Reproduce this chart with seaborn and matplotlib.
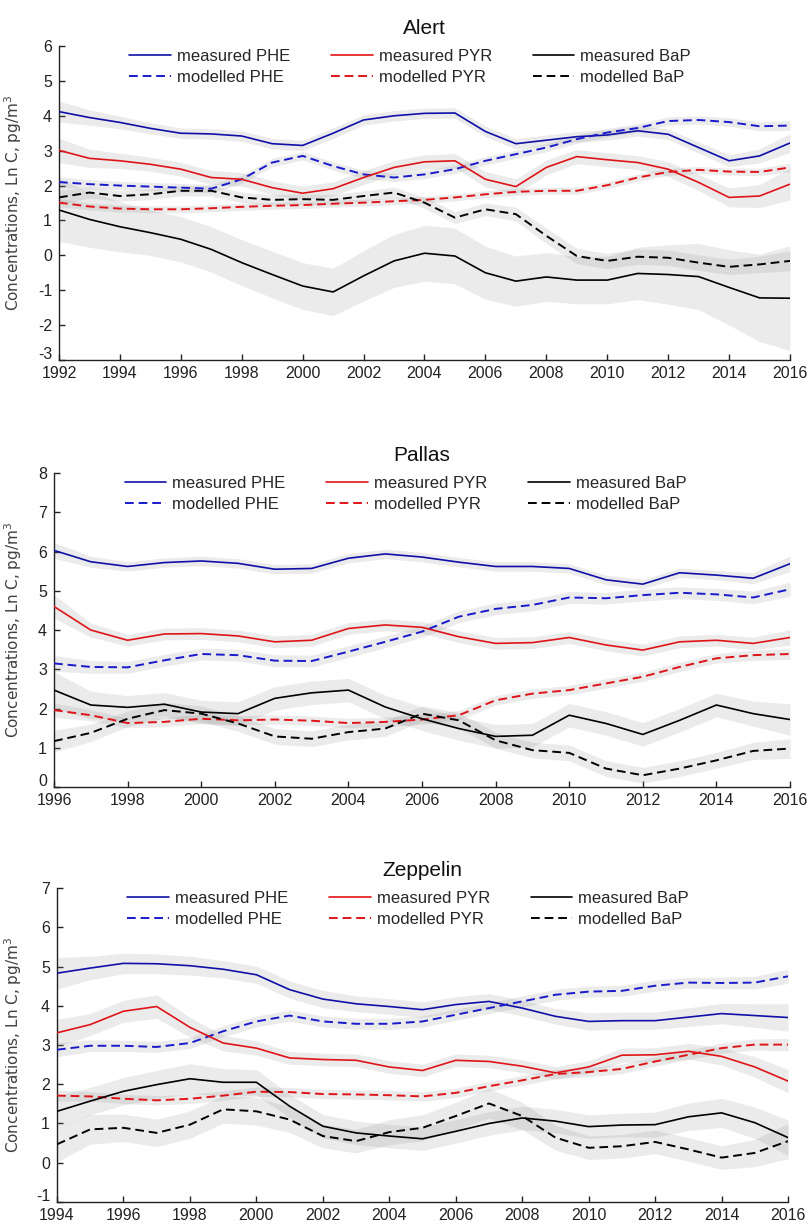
import matplotlib
matplotlib.use("Agg")
import matplotlib.pyplot as plt
import matplotlib.transforms as mtransforms
import seaborn as sns

# ---------------- Alert, 1992-2016 ----------------
alert_years = list(range(1992, 2017))
alert_phe_meas = [4.12, 3.95, 3.81, 3.64, 3.50, 3.48, 3.42, 3.20, 3.15, 3.50, 3.88, 4.00, 4.07,
                  4.08, 3.55, 3.20, 3.30, 3.40, 3.45, 3.57, 3.47, 3.09, 2.71, 2.85, 3.22]
alert_phe_meas_ci = [0.30, 0.22, 0.18, 0.16, 0.15, 0.15, 0.15, 0.15, 0.15, 0.15, 0.15, 0.15, 0.15,
                     0.15, 0.15, 0.15, 0.15, 0.15, 0.15, 0.15, 0.15, 0.16, 0.17, 0.20, 0.27]
alert_phe_mod = [2.10, 2.04, 2.00, 1.97, 1.94, 1.91, 2.18, 2.66, 2.85, 2.56, 2.32, 2.23, 2.32,
                 2.47, 2.71, 2.90, 3.09, 3.33, 3.52, 3.65, 3.85, 3.88, 3.82, 3.70, 3.72]
alert_phe_mod_ci = [0.15, 0.13, 0.12, 0.12, 0.12, 0.12, 0.12, 0.12, 0.12, 0.12, 0.12, 0.12, 0.12,
                    0.12, 0.12, 0.12, 0.12, 0.12, 0.12, 0.12, 0.12, 0.12, 0.12, 0.13, 0.14]
alert_pyr_meas = [3.01, 2.78, 2.71, 2.61, 2.47, 2.23, 2.18, 1.94, 1.78, 1.91, 2.23, 2.52, 2.68,
                  2.71, 2.18, 1.97, 2.52, 2.83, 2.74, 2.66, 2.47, 2.09, 1.66, 1.70, 2.04]
alert_pyr_meas_ci = [0.35, 0.26, 0.22, 0.20, 0.20, 0.20, 0.20, 0.20, 0.20, 0.20, 0.20, 0.20, 0.20,
                     0.21, 0.22, 0.22, 0.21, 0.20, 0.20, 0.20, 0.21, 0.23, 0.27, 0.33, 0.45]
alert_pyr_mod = [1.51, 1.40, 1.34, 1.32, 1.32, 1.35, 1.39, 1.42, 1.44, 1.48, 1.51, 1.55, 1.59,
                 1.66, 1.75, 1.82, 1.85, 1.85, 2.01, 2.23, 2.39, 2.45, 2.40, 2.39, 2.52]
alert_pyr_mod_ci = [0.12, 0.10, 0.10, 0.10, 0.10, 0.10, 0.10, 0.10, 0.10, 0.10, 0.10, 0.10, 0.10,
                    0.10, 0.10, 0.10, 0.10, 0.10, 0.10, 0.10, 0.10, 0.10, 0.10, 0.11, 0.12]
alert_bap_meas = [1.30, 1.03, 0.82, 0.65, 0.46, 0.17, -0.21, -0.55, -0.88, -1.05, -0.59, -0.16, 0.06,
                  -0.02, -0.50, -0.74, -0.62, -0.71, -0.71, -0.52, -0.55, -0.61, -0.92, -1.22, -1.23]
alert_bap_meas_ci = [0.90, 0.80, 0.72, 0.65, 0.65, 0.65, 0.66, 0.67, 0.67, 0.68, 0.72, 0.76, 0.80,
                     0.80, 0.76, 0.72, 0.70, 0.68, 0.68, 0.75, 0.85, 0.95, 1.08, 1.25, 1.50]
alert_bap_mod = [1.66, 1.80, 1.70, 1.75, 1.85, 1.85, 1.66, 1.59, 1.61, 1.59, 1.70, 1.80, 1.51,
                 1.08, 1.32, 1.18, 0.56, -0.02, -0.16, -0.04, -0.07, -0.21, -0.33, -0.26, -0.16]
alert_bap_mod_ci = [0.20, 0.16, 0.15, 0.15, 0.15, 0.15, 0.15, 0.15, 0.15, 0.15, 0.15, 0.15, 0.16,
                    0.17, 0.18, 0.20, 0.22, 0.22, 0.22, 0.22, 0.22, 0.22, 0.22, 0.24, 0.28]

# ---------------- Pallas, 1996-2016 ----------------
pallas_years = list(range(1996, 2017))
pallas_phe_meas = [6.03, 5.74, 5.62, 5.72, 5.76, 5.70, 5.55, 5.57, 5.83, 5.94, 5.86,
                   5.73, 5.62, 5.62, 5.57, 5.28, 5.17, 5.46, 5.40, 5.32, 5.69]
pallas_phe_meas_ci = [0.20, 0.14, 0.12, 0.12, 0.12, 0.12, 0.12, 0.12, 0.12, 0.12, 0.12,
                      0.12, 0.12, 0.12, 0.12, 0.12, 0.12, 0.12, 0.12, 0.14, 0.20]
pallas_phe_mod = [3.15, 3.06, 3.05, 3.23, 3.39, 3.36, 3.22, 3.21, 3.45, 3.70, 3.96,
                  4.34, 4.54, 4.64, 4.83, 4.81, 4.89, 4.95, 4.91, 4.83, 5.04]
pallas_phe_mod_ci = [0.20, 0.16, 0.15, 0.15, 0.15, 0.15, 0.15, 0.15, 0.15, 0.15, 0.15,
                     0.15, 0.15, 0.15, 0.15, 0.15, 0.15, 0.15, 0.15, 0.16, 0.18]
pallas_pyr_meas = [4.60, 4.00, 3.74, 3.90, 3.91, 3.85, 3.70, 3.74, 4.04, 4.13, 4.07,
                   3.83, 3.66, 3.68, 3.81, 3.62, 3.49, 3.70, 3.74, 3.66, 3.81]
pallas_pyr_meas_ci = [0.30, 0.18, 0.15, 0.15, 0.15, 0.15, 0.15, 0.15, 0.15, 0.15, 0.15,
                      0.15, 0.15, 0.15, 0.15, 0.15, 0.15, 0.15, 0.15, 0.16, 0.20]
pallas_pyr_mod = [1.96, 1.83, 1.63, 1.66, 1.74, 1.70, 1.72, 1.69, 1.63, 1.66, 1.72,
                  1.83, 2.21, 2.38, 2.47, 2.64, 2.81, 3.06, 3.28, 3.36, 3.39]
pallas_pyr_mod_ci = [0.18, 0.14, 0.12, 0.12, 0.12, 0.12, 0.12, 0.12, 0.12, 0.12, 0.12,
                     0.12, 0.12, 0.12, 0.12, 0.12, 0.12, 0.12, 0.12, 0.13, 0.14]
pallas_bap_meas = [2.47, 2.09, 2.03, 2.11, 1.91, 1.87, 2.26, 2.40, 2.47, 2.04, 1.74,
                   1.49, 1.29, 1.32, 1.83, 1.62, 1.34, 1.70, 2.09, 1.87, 1.72]
pallas_bap_meas_ci = [0.47, 0.35, 0.30, 0.30, 0.30, 0.30, 0.30, 0.30, 0.30, 0.30, 0.30,
                      0.30, 0.30, 0.30, 0.30, 0.30, 0.30, 0.30, 0.30, 0.32, 0.40]
pallas_bap_mod = [1.17, 1.38, 1.74, 1.96, 1.87, 1.62, 1.29, 1.23, 1.40, 1.49, 1.87,
                  1.70, 1.19, 0.94, 0.87, 0.47, 0.30, 0.47, 0.68, 0.92, 0.98]
pallas_bap_mod_ci = [0.28, 0.22, 0.20, 0.20, 0.20, 0.20, 0.20, 0.20, 0.20, 0.20, 0.20,
                     0.20, 0.20, 0.20, 0.20, 0.20, 0.20, 0.20, 0.20, 0.22, 0.25]

# ---------------- Zeppelin, 1994-2016 ----------------
zeppelin_years = list(range(1994, 2017))
zeppelin_phe_meas = [4.83, 4.96, 5.08, 5.07, 5.02, 4.93, 4.79, 4.41, 4.17, 4.05, 3.98, 3.90,
                     4.03, 4.11, 3.94, 3.73, 3.60, 3.62, 3.62, 3.71, 3.80, 3.75, 3.70]
zeppelin_phe_meas_ci = [0.40, 0.30, 0.26, 0.25, 0.24, 0.22, 0.22, 0.22, 0.22, 0.20, 0.20, 0.20,
                        0.20, 0.20, 0.20, 0.20, 0.22, 0.22, 0.22, 0.24, 0.26, 0.30, 0.35]
zeppelin_phe_mod = [2.88, 2.98, 2.98, 2.95, 3.05, 3.35, 3.60, 3.75, 3.60, 3.54, 3.54, 3.60,
                    3.77, 3.94, 4.11, 4.28, 4.36, 4.38, 4.51, 4.59, 4.58, 4.59, 4.75]
zeppelin_phe_mod_ci = [0.18, 0.15, 0.14, 0.14, 0.14, 0.14, 0.14, 0.14, 0.14, 0.14, 0.14, 0.14,
                       0.14, 0.14, 0.14, 0.14, 0.14, 0.14, 0.14, 0.14, 0.15, 0.16, 0.18]
zeppelin_pyr_meas = [3.31, 3.52, 3.86, 3.98, 3.45, 3.05, 2.92, 2.67, 2.63, 2.61, 2.44, 2.35,
                     2.61, 2.58, 2.46, 2.29, 2.44, 2.74, 2.75, 2.84, 2.71, 2.44, 2.08]
zeppelin_pyr_meas_ci = [0.35, 0.28, 0.28, 0.30, 0.25, 0.20, 0.18, 0.16, 0.16, 0.16, 0.16, 0.16,
                        0.16, 0.16, 0.16, 0.16, 0.16, 0.18, 0.18, 0.20, 0.22, 0.26, 0.30]
zeppelin_pyr_mod = [1.71, 1.69, 1.63, 1.59, 1.63, 1.71, 1.81, 1.80, 1.75, 1.74, 1.72, 1.69,
                    1.78, 1.95, 2.10, 2.26, 2.31, 2.39, 2.58, 2.75, 2.92, 3.01, 3.01]
zeppelin_pyr_mod_ci = [0.14, 0.12, 0.12, 0.12, 0.12, 0.12, 0.12, 0.12, 0.12, 0.12, 0.12, 0.12,
                       0.12, 0.12, 0.12, 0.12, 0.12, 0.12, 0.12, 0.12, 0.13, 0.14, 0.16]
zeppelin_bap_meas = [1.31, 1.57, 1.82, 1.99, 2.14, 2.05, 2.05, 1.44, 0.93, 0.76, 0.68, 0.61,
                     0.80, 1.00, 1.14, 1.06, 0.92, 0.96, 0.97, 1.17, 1.27, 1.02, 0.64]
zeppelin_bap_meas_ci = [0.40, 0.35, 0.35, 0.36, 0.38, 0.35, 0.32, 0.30, 0.30, 0.30, 0.30, 0.30,
                        0.30, 0.30, 0.30, 0.30, 0.30, 0.30, 0.32, 0.35, 0.37, 0.40, 0.45]
zeppelin_bap_mod = [0.47, 0.85, 0.89, 0.76, 0.97, 1.36, 1.31, 1.10, 0.68, 0.55, 0.78, 0.89,
                    1.19, 1.51, 1.19, 0.64, 0.38, 0.42, 0.53, 0.34, 0.13, 0.25, 0.55]
zeppelin_bap_mod_ci = [0.45, 0.38, 0.35, 0.35, 0.35, 0.35, 0.35, 0.33, 0.30, 0.30, 0.32, 0.33,
                       0.35, 0.38, 0.35, 0.32, 0.30, 0.30, 0.30, 0.30, 0.30, 0.35, 0.45]

series_labels = ["measured PHE", "modelled PHE", "measured PYR",
                 "modelled PYR", "measured BaP", "modelled BaP"]
series_colors = ["#1010a8", "#1a1acc", "#e01418", "#e01418", "#000000", "#000000"]
YLABEL = "Concentrations, Ln C, pg/m$^3$"

sns.set_theme(style="ticks")
plt.rcParams["font.family"] = ["Liberation Sans", "DejaVu Sans"]
plt.rcParams["axes.unicode_minus"] = False

fig = plt.figure(figsize=(8.11, 12.24), dpi=100)

panels = [
    ("Alert", alert_years,
     [alert_phe_meas, alert_phe_mod, alert_pyr_meas, alert_pyr_mod, alert_bap_meas, alert_bap_mod],
     [alert_phe_meas_ci, alert_phe_mod_ci, alert_pyr_meas_ci, alert_pyr_mod_ci,
      alert_bap_meas_ci, alert_bap_mod_ci],
     (-3, 6), [0.0727, 0.7059, 0.9014, 0.2565]),
    ("Pallas", pallas_years,
     [pallas_phe_meas, pallas_phe_mod, pallas_pyr_meas, pallas_pyr_mod, pallas_bap_meas, pallas_bap_mod],
     [pallas_phe_meas_ci, pallas_phe_mod_ci, pallas_pyr_meas_ci, pallas_pyr_mod_ci,
      pallas_bap_meas_ci, pallas_bap_mod_ci],
     (0, 8), [0.0666, 0.3570, 0.9075, 0.2565]),
    ("Zeppelin", zeppelin_years,
     [zeppelin_phe_meas, zeppelin_phe_mod, zeppelin_pyr_meas, zeppelin_pyr_mod,
      zeppelin_bap_meas, zeppelin_bap_mod],
     [zeppelin_phe_meas_ci, zeppelin_phe_mod_ci, zeppelin_pyr_meas_ci, zeppelin_pyr_mod_ci,
      zeppelin_bap_meas_ci, zeppelin_bap_mod_ci],
     (-1, 7), [0.0703, 0.0180, 0.9014, 0.2565]),
]

for title, years, values, cis, ylim, rect in panels:
    ax = fig.add_axes(rect)

    # shaded uncertainty bands underneath all curves
    for vals, ci in zip(values, cis):
        lo = [v - c for v, c in zip(vals, ci)]
        hi = [v + c for v, c in zip(vals, ci)]
        ax.fill_between(years, lo, hi, color="#8c8c8c", alpha=0.17, lw=0, zorder=1)

    handles = []
    for i, (vals, label, color) in enumerate(zip(values, series_labels, series_colors)):
        modelled = (i % 2 == 1)
        sns.lineplot(x=years, y=vals, ax=ax, color=color,
                     lw=1.4 if modelled else 1.2,
                     linestyle=(0, (4.5, 2.5)) if modelled else "-",
                     zorder=3)
        line = ax.lines[-1]
        line.set_label(label)
        handles.append(line)

    ax.set_xlim(years[0], years[-1])
    ax.set_ylim(*ylim)
    ax.set_xticks(list(range(years[0], years[-1] + 1, 2)))
    ax.set_yticks(list(range(ylim[0], ylim[1] + 1)))
    sns.despine(ax=ax)
    for side in ("left", "bottom"):
        ax.spines[side].set_color("#222222")
        ax.spines[side].set_linewidth(1.0)
    ax.tick_params(direction="in", length=4, width=1, color="#222222",
                   labelsize=11.5, labelcolor="#222222")
    ax.tick_params(axis="x", pad=4)
    ax.tick_params(axis="y", pad=5)
    for lab in ax.get_xticklabels() + ax.get_yticklabels():
        lab.set_fontfamily(["Liberation Sans Narrow", "Liberation Sans", "DejaVu Sans"])
    # lift the bottom y label a little so it clears the first year label
    lift = mtransforms.ScaledTranslation(0, 5 / 72, fig.dpi_scale_trans)
    bottom_lab = ax.get_yticklabels()[0]
    bottom_lab.set_transform(bottom_lab.get_transform() + lift)

    ax.set_title(title, fontsize=15, pad=9, color="#111111")
    ax.set_ylabel(YLABEL, fontsize=11, color="#404040", family="DejaVu Sans")
    # the y label sits at the same page column in every panel
    label_tr = mtransforms.blended_transform_factory(fig.transFigure, ax.transAxes)
    ax.yaxis.set_label_coords(24 / 811, 0.5, transform=label_tr)
    ax.set_xlabel("")

    ax.legend(handles=handles, ncol=3, loc="upper left",
              bbox_to_anchor=(0.096, 0.99), frameon=False,
              fontsize=12, handlelength=2.5, handletextpad=0.36,
              columnspacing=2.45, labelspacing=0.33,
              borderpad=0, borderaxespad=0)

fig.savefig("out.png", dpi=100)
